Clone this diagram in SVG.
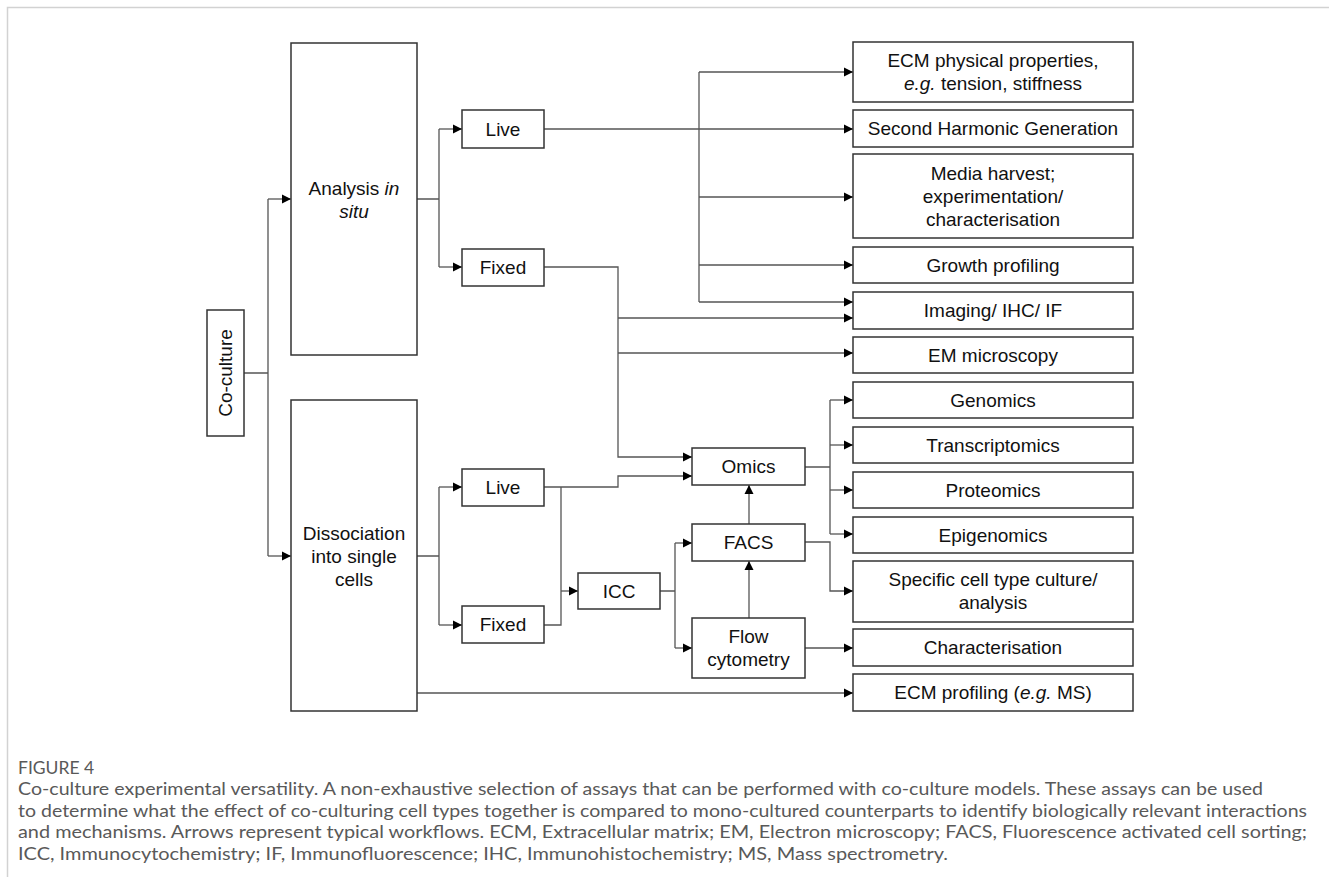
<svg xmlns="http://www.w3.org/2000/svg" width="1329" height="877" viewBox="0 0 1329 877">
<defs>
<style>
.box{fill:#fff;stroke:#333;stroke-width:1.5}
.ln{fill:none;stroke:#555;stroke-width:1.3}
.t{font-family:"Liberation Sans",Arial,sans-serif;font-size:19px;fill:#111;text-anchor:middle}
.cap{font-family:Lato,"Open Sans",sans-serif;font-size:17.5px;fill:#595959}
.frame{stroke:#d2d2d2;stroke-width:1.5;fill:none}
</style>
<marker id="ah" viewBox="0 0 10 10" refX="10" refY="5" markerWidth="9" markerHeight="10" markerUnits="userSpaceOnUse" orient="auto">
<path d="M0,0 L10,5 L0,10 z" fill="#000"/>
</marker>
</defs>
<rect width="1329" height="877" fill="#fff"/>
<path class="frame" d="M7.5,877 V7.5 H1329"/>

<g id="connectors">
<path class="ln" d="M244,373 H268 M268,199 V556"/>
<path class="ln" d="M268,199 H291" marker-end="url(#ah)"/>
<path class="ln" d="M268,556 H291" marker-end="url(#ah)"/>
<path class="ln" d="M417,199 H439 M439,129 V267"/>
<path class="ln" d="M439,129 H462" marker-end="url(#ah)"/>
<path class="ln" d="M439,267 H462" marker-end="url(#ah)"/>
<path class="ln" d="M417,556 H439 M439,487 V625"/>
<path class="ln" d="M439,487 H462" marker-end="url(#ah)"/>
<path class="ln" d="M439,625 H462" marker-end="url(#ah)"/>
<path class="ln" d="M544,129 H853" marker-end="url(#ah)"/>
<path class="ln" d="M699,72 V302"/>
<path class="ln" d="M699,72 H853" marker-end="url(#ah)"/>
<path class="ln" d="M699,197 H853" marker-end="url(#ah)"/>
<path class="ln" d="M699,265 H853" marker-end="url(#ah)"/>
<path class="ln" d="M699,302 H853" marker-end="url(#ah)"/>
<path class="ln" d="M544,267 H618 V457 H692" marker-end="url(#ah)"/>
<path class="ln" d="M618,318 H853" marker-end="url(#ah)"/>
<path class="ln" d="M618,353 H853" marker-end="url(#ah)"/>
<path class="ln" d="M544,487 H618 V476 H692" marker-end="url(#ah)"/>
<path class="ln" d="M561,487 V625 H544"/>
<path class="ln" d="M561,591 H578" marker-end="url(#ah)"/>
<path class="ln" d="M660,591 H675 M675,543 V648"/>
<path class="ln" d="M675,543 H692" marker-end="url(#ah)"/>
<path class="ln" d="M675,648 H692" marker-end="url(#ah)"/>
<path class="ln" d="M749,618 V561" marker-end="url(#ah)"/>
<path class="ln" d="M749,524 V485" marker-end="url(#ah)"/>
<path class="ln" d="M805,467 H830 M830,400 V534"/>
<path class="ln" d="M830,400 H853" marker-end="url(#ah)"/>
<path class="ln" d="M830,445 H853" marker-end="url(#ah)"/>
<path class="ln" d="M830,490 H853" marker-end="url(#ah)"/>
<path class="ln" d="M830,534 H853" marker-end="url(#ah)"/>
<path class="ln" d="M805,542 H830 V591 H853" marker-end="url(#ah)"/>
<path class="ln" d="M805,648 H853" marker-end="url(#ah)"/>
<path class="ln" d="M417,693 H853" marker-end="url(#ah)"/>
</g>

<g id="coculture"><rect class="box" x="207" y="310" width="37" height="126"/>
<text class="t" transform="translate(232,373) rotate(-90)">Co-culture</text></g>

<g id="analysis"><rect class="box" x="291" y="43" width="126" height="312"/>
<text class="t" x="354" y="195">Analysis <tspan font-style="italic">in</tspan></text>
<text class="t" x="354" y="218" font-style="italic">situ</text></g>

<g id="dissociation"><rect class="box" x="291" y="400" width="126" height="311"/>
<text class="t" x="354" y="540">Dissociation</text>
<text class="t" x="354" y="563">into single</text>
<text class="t" x="354" y="586">cells</text></g>

<g id="live1"><rect class="box" x="462" y="110" width="82" height="38"/><text class="t" x="503" y="135.5">Live</text></g>
<g id="fixed1"><rect class="box" x="462" y="249" width="82" height="37"/><text class="t" x="503" y="274">Fixed</text></g>
<g id="live2"><rect class="box" x="462" y="469" width="82" height="37"/><text class="t" x="503" y="494">Live</text></g>
<g id="fixed2"><rect class="box" x="462" y="606" width="82" height="37"/><text class="t" x="503" y="631">Fixed</text></g>

<g id="icc"><rect class="box" x="578" y="573" width="82" height="36"/><text class="t" x="619" y="597.5">ICC</text></g>
<g id="omics"><rect class="box" x="692" y="448" width="113" height="37"/><text class="t" x="748.5" y="473">Omics</text></g>
<g id="facs"><rect class="box" x="692" y="524" width="113" height="37"/><text class="t" x="748.5" y="549">FACS</text></g>
<g id="flow"><rect class="box" x="692" y="618" width="113" height="60"/>
<text class="t" x="748.5" y="643">Flow</text><text class="t" x="748.5" y="666">cytometry</text></g>

<g id="ecmphys"><rect class="box" x="853" y="42" width="280" height="60"/>
<text class="t" x="993" y="67">ECM physical properties,</text>
<text class="t" x="993" y="90"><tspan font-style="italic">e.g.</tspan> tension, stiffness</text></g>
<g id="shg"><rect class="box" x="853" y="110" width="280" height="37"/><text class="t" x="993" y="135">Second Harmonic Generation</text></g>
<g id="media"><rect class="box" x="853" y="154" width="280" height="84"/>
<text class="t" x="993" y="179.5">Media harvest;</text>
<text class="t" x="993" y="202.5">experimentation/</text>
<text class="t" x="993" y="225.5">characterisation</text></g>
<g id="growth"><rect class="box" x="853" y="247" width="280" height="36"/><text class="t" x="993" y="271.5">Growth profiling</text></g>
<g id="imaging"><rect class="box" x="853" y="292" width="280" height="37"/><text class="t" x="993" y="317">Imaging/ IHC/ IF</text></g>
<g id="em"><rect class="box" x="853" y="337" width="280" height="36"/><text class="t" x="993" y="361.5">EM microscopy</text></g>
<g id="genomics"><rect class="box" x="853" y="382" width="280" height="36"/><text class="t" x="993" y="406.5">Genomics</text></g>
<g id="transcriptomics"><rect class="box" x="853" y="427" width="280" height="36"/><text class="t" x="993" y="451.5">Transcriptomics</text></g>
<g id="proteomics"><rect class="box" x="853" y="472" width="280" height="36"/><text class="t" x="993" y="496.5">Proteomics</text></g>
<g id="epigenomics"><rect class="box" x="853" y="517" width="280" height="36"/><text class="t" x="993" y="541.5">Epigenomics</text></g>
<g id="specific"><rect class="box" x="853" y="561" width="280" height="61"/>
<text class="t" x="993" y="586">Specific cell type culture/</text>
<text class="t" x="993" y="609">analysis</text></g>
<g id="characterisation"><rect class="box" x="853" y="629" width="280" height="37"/><text class="t" x="993" y="654">Characterisation</text></g>
<g id="ecmprof"><rect class="box" x="853" y="674" width="280" height="37"/><text class="t" x="993" y="699">ECM profiling (<tspan font-style="italic">e.g.</tspan> MS)</text></g>

<g id="caption">
<text class="cap" x="18" y="774" font-size="18.5px" fill="#555">FIGURE 4</text>
<text class="cap" x="18" y="795" textLength="1245" lengthAdjust="spacingAndGlyphs">Co-culture experimental versatility. A non-exhaustive selection of assays that can be performed with co-culture models. These assays can be used</text>
<text class="cap" x="18" y="817" textLength="1289" lengthAdjust="spacingAndGlyphs">to determine what the effect of co-culturing cell types together is compared to mono-cultured counterparts to identify biologically relevant interactions</text>
<text class="cap" x="18" y="838" textLength="1289" lengthAdjust="spacingAndGlyphs">and mechanisms. Arrows represent typical workflows. ECM, Extracellular matrix; EM, Electron microscopy; FACS, Fluorescence activated cell sorting;</text>
<text class="cap" x="18" y="860" textLength="930" lengthAdjust="spacingAndGlyphs">ICC, Immunocytochemistry; IF, Immunofluorescence; IHC, Immunohistochemistry; MS, Mass spectrometry.</text>
</g>
</svg>
